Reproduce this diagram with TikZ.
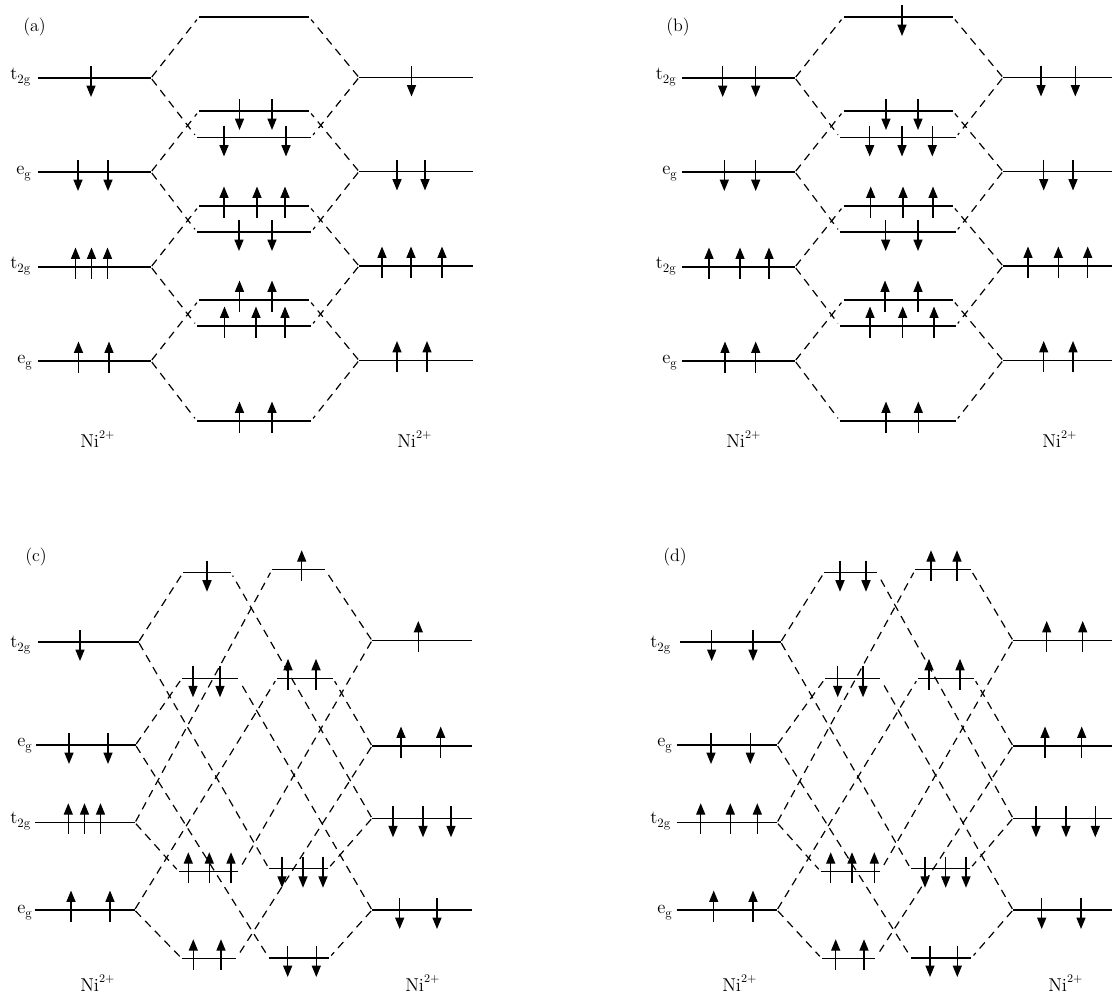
\documentclass[tikz,border=0pt]{standalone}
\usetikzlibrary{arrows.meta}
\tikzset{
  level/.style={line width=1pt,black},
  wire/.style={line width=0.9pt,black,dash pattern=on 6pt off 4.4pt,shorten >=2.5pt,shorten <=1pt},
  spin/.style={line width=1pt,black,-{Triangle[length=8.6pt,width=6.8pt]}},
  lab/.style={inner sep=0pt,anchor=base west,text=black}
}
\newcommand{\lv}[4]{\coordinate (#1-l) at (#2,#4);\coordinate (#1-r) at (#3,#4);\draw[level] (#1-l)--(#1-r);}
\newcommand{\ups}[2]{\foreach \xx in {#2}{\draw[spin] (\xx,#1+11.5)--(\xx,#1-19.5);}}
\newcommand{\dns}[2]{\foreach \xx in {#2}{\draw[spin] (\xx,#1-12)--(\xx,#1+19);}}
\newcommand{\tg}{\fontsize{14}{16}\selectfont t\raisebox{-3.4pt}{\fontsize{9.6}{11}\selectfont 2g}}
\newcommand{\eg}{\fontsize{14}{16}\selectfont e\raisebox{-3.4pt}{\fontsize{9.6}{11}\selectfont g}}
\newcommand{\nii}{\fontsize{14}{16}\selectfont Ni\raisebox{6.6pt}{\fontsize{8.8}{10}\selectfont 2+}}
\newcommand{\pl}[1]{\fontsize{13.5}{16}\selectfont (#1)}
\newcommand{\wirehex}[1]{%
  \draw[wire] (#1L1)--(#1C1-l);\draw[wire] (#1L1)--(#1C3-l);
  \draw[wire] (#1L2)--(#1C2-l);\draw[wire] (#1L2)--(#1C5-l);
  \draw[wire] (#1L3)--(#1C4-l);\draw[wire] (#1L3)--(#1C7-l);
  \draw[wire] (#1L4)--(#1C6-l);\draw[wire] (#1L4)--(#1C8-l);
  \draw[wire] (#1R1)--(#1C1-r);\draw[wire] (#1R1)--(#1C3-r);
  \draw[wire] (#1R2)--(#1C2-r);\draw[wire] (#1R2)--(#1C5-r);
  \draw[wire] (#1R3)--(#1C4-r);\draw[wire] (#1R3)--(#1C7-r);
  \draw[wire] (#1R4)--(#1C6-r);\draw[wire] (#1R4)--(#1C8-r);}
\newcommand{\wirecross}[1]{%
  \draw[wire] (#1L1)--(#1A1-l);\draw[wire] (#1L1)--(#1B3-l);
  \draw[wire] (#1L2)--(#1A2-l);\draw[wire] (#1L2)--(#1B4-l);
  \draw[wire] (#1L3)--(#1B1-l);\draw[wire] (#1L3)--(#1A3-l);
  \draw[wire] (#1L4)--(#1B2-l);\draw[wire] (#1L4)--(#1A4-l);
  \draw[wire] (#1R1)--(#1B1-r);\draw[wire] (#1R1)--(#1A3-r);
  \draw[wire] (#1R2)--(#1B2-r);\draw[wire] (#1R2)--(#1A4-r);
  \draw[wire] (#1R3)--(#1A1-r);\draw[wire] (#1R3)--(#1B3-r);
  \draw[wire] (#1R4)--(#1A2-r);\draw[wire] (#1R4)--(#1B4-r);}
\begin{document}
\begin{tikzpicture}[x=0.75pt,y=-0.75pt]
\useasboundingbox (0,0) rectangle (1112,996);
% ---------- (a)
\node[lab] (a-lab) at (23,31) {\pl{a}};
\node[lab] (a-t1) at (10,79) {\tg};
\node[lab] (a-e1) at (16,174) {\eg};
\node[lab] (a-t2) at (10,268) {\tg};
\node[lab] (a-e2) at (17,363) {\eg};
\node[lab] (a-n1) at (80,447) {\nii};
\node[lab] (a-n2) at (397,447) {\nii};
\lv{aXL1}{38}{151}{78}\lv{aXL2}{38}{151}{172}\lv{aXL3}{38}{151}{267}\lv{aXL4}{38}{151}{361}
\lv{aXR1}{359}{473}{77.5}\lv{aXR2}{359}{473}{171.5}\lv{aXR3}{359}{473}{266}\lv{aXR4}{359}{473}{360.5}
\coordinate (aL1) at (aXL1-r);\coordinate (aL2) at (aXL2-r);\coordinate (aL3) at (aXL3-r);\coordinate (aL4) at (aXL4-r);
\coordinate (aR1) at (aXR1-l);\coordinate (aR2) at (aXR2-l);\coordinate (aR3) at (aXR3-l);\coordinate (aR4) at (aXR4-l);
\lv{aC1}{199}{309}{17}\lv{aC2}{199}{309}{111}\lv{aC3}{197}{311}{137.5}\lv{aC4}{199}{309}{206}
\lv{aC5}{197}{311}{232}\lv{aC6}{199}{309}{300}\lv{aC7}{197}{311}{326}\lv{aC8}{197}{311}{421}
\wirehex{a}
\dns{78}{91}\dns{172}{78,108}\ups{267}{75.5,91.5,107.5}\ups{361}{78.5,109}
\dns{77.5}{411.5}\dns{171.5}{397,425}\ups{266}{382,411,442}\ups{360.5}{397,427}
\dns{111}{239.5,272}\dns{137.5}{224,286}\ups{206}{224,257,285}\dns{232}{239,272}
\ups{300}{239.5,272}\ups{326}{224.5,256,285}\ups{421}{239.5,272}
% ---------- (b)
\node[lab] (b-lab) at (666,31) {\pl{b}};
\node[lab] (b-t1) at (655.5,79) {\tg};
\node[lab] (b-e1) at (662,174) {\eg};
\node[lab] (b-t2) at (655.5,268) {\tg};
\node[lab] (b-e2) at (662,363) {\eg};
\node[lab] (b-n1) at (726,447) {\nii};
\node[lab] (b-n2) at (1042,447) {\nii};
\lv{bXL1}{682}{795}{78}\lv{bXL2}{682}{795}{172}\lv{bXL3}{682}{795}{267}\lv{bXL4}{682}{795}{361}
\lv{bXR1}{1003}{1112}{77.5}\lv{bXR2}{1003}{1112}{171.5}\lv{bXR3}{1003}{1112}{266}\lv{bXR4}{1003}{1112}{360.5}
\coordinate (bL1) at (bXL1-r);\coordinate (bL2) at (bXL2-r);\coordinate (bL3) at (bXL3-r);\coordinate (bL4) at (bXL4-r);
\coordinate (bR1) at (bXR1-l);\coordinate (bR2) at (bXR2-l);\coordinate (bR3) at (bXR3-l);\coordinate (bR4) at (bXR4-l);
\lv{bC1}{843.5}{952.7}{17}\lv{bC2}{843.5}{952.7}{111}\lv{bC3}{840}{955.7}{137.5}\lv{bC4}{843.5}{952.7}{206}
\lv{bC5}{840}{955.7}{232}\lv{bC6}{843.5}{952.7}{300}\lv{bC7}{840}{955.7}{326}\lv{bC8}{840}{955.7}{421}
\wirehex{b}
\dns{17}{902}
\dns{78}{722.7,755.7}\dns{172}{724.3,755.7}\ups{267}{709,740,769}\ups{361}{725,755.7}
\dns{77.5}{1041,1075.3}\dns{171.5}{1043.7,1073}\ups{266}{1028,1058.3,1087.7}\ups{360.5}{1043.7,1073}
\dns{111}{886,918}\dns{137.5}{869.7,902,932.3}\ups{206}{870.7,903,933}\dns{232}{885.7,918}
\ups{300}{885,918}\ups{326}{870,902.7,934}\ups{421}{886,918.3}
% ---------- (c)
\node[lab] (c-lab) at (25,561) {\pl{c}};
\node[lab] (c-t1) at (10,647) {\tg};
\node[lab] (c-e1) at (17,746) {\eg};
\node[lab] (c-t2) at (10,823) {\tg};
\node[lab] (c-e2) at (17,913) {\eg};
\node[lab] (c-n1) at (80,991) {\nii};
\node[lab] (c-n2) at (405,991) {\nii};
\lv{cXL1}{38.3}{138.5}{642}\lv{cXL2}{35.5}{135.5}{745}\lv{cXL3}{35}{135}{822.7}\lv{cXL4}{35}{134.5}{910}
\lv{cXR1}{372}{472}{640.5}\lv{cXR2}{372}{472}{746}\lv{cXR3}{372}{472}{818.3}\lv{cXR4}{372}{472}{910}
\coordinate (cL1) at (cXL1-r);\coordinate (cL2) at (cXL2-r);\coordinate (cL3) at (cXL3-r);\coordinate (cL4) at (cXL4-r);
\coordinate (cR1) at (cXR1-l);\coordinate (cR2) at (cXR2-l);\coordinate (cR3) at (cXR3-l);\coordinate (cR4) at (cXR4-l);
\lv{cA1}{183}{231}{572.7}\lv{cA2}{182}{238}{678.3}\lv{cA3}{179}{238}{871.7}\lv{cA4}{182}{236}{958.7}
\lv{cB1}{272}{325}{569.7}\lv{cB2}{277}{333}{678.3}\lv{cB3}{269}{328}{868.7}\lv{cB4}{269}{329}{958}
\wirecross{c}
\dns{642}{80}\dns{745}{69,108}\ups{822.7}{68.3,84.5,100.5}\ups{910}{71,110}
\ups{640.5}{418.3}\ups{746}{401,440.7}\dns{818.3}{393,423,451}\dns{910}{399.7,437}
\dns{572.7}{207}\dns{678.3}{193,220}\ups{871.7}{188.3,209.3,231}\ups{958.7}{193.3,221}
\ups{569.7}{301.7}\ups{678.3}{288,316}\dns{868.7}{282,303,323}\dns{958}{287.7,316.3}
% ---------- (d)
\node[lab] (d-lab) at (663,561) {\pl{d}};
\node[lab] (d-t1) at (650,647) {\tg};
\node[lab] (d-e1) at (657,746) {\eg};
\node[lab] (d-t2) at (650,823) {\tg};
\node[lab] (d-e2) at (657,913) {\eg};
\node[lab] (d-n1) at (722,991) {\nii};
\node[lab] (d-n2) at (1048,991) {\nii};
\lv{dXL1}{680}{780.7}{642}\lv{dXL2}{676.7}{777}{745}\lv{dXL3}{676.7}{777}{822.7}\lv{dXL4}{676.7}{777}{910}
\lv{dXR1}{1013}{1112}{640.5}\lv{dXR2}{1013}{1112}{746}\lv{dXR3}{1013}{1112}{818.3}\lv{dXR4}{1013}{1112}{910}
\coordinate (dL1) at (dXL1-r);\coordinate (dL2) at (dXL2-r);\coordinate (dL3) at (dXL3-r);\coordinate (dL4) at (dXL4-r);
\coordinate (dR1) at (dXR1-l);\coordinate (dR2) at (dXR2-l);\coordinate (dR3) at (dXR3-l);\coordinate (dR4) at (dXR4-l);
\lv{dA1}{824}{877}{572.7}\lv{dA2}{825.3}{880}{678.3}\lv{dA3}{821}{880}{871.7}\lv{dA4}{822}{875}{958.7}
\lv{dB1}{915.3}{970.7}{569.7}\lv{dB2}{918}{974}{678.3}\lv{dB3}{910.7}{970}{868.7}\lv{dB4}{911.3}{971.3}{958}
\wirecross{d}
\dns{642}{711.7,753}\dns{745}{711,750.3}\ups{822.7}{700.7,730.3,757.3}\ups{910}{713.7,753}
\ups{640.5}{1046.7,1082.7}\ups{746}{1045,1081.7}\dns{818.3}{1036,1066,1095.3}\dns{910}{1041.7,1081}
\dns{572.7}{840,866}\dns{678.3}{837.7,863}\ups{871.7}{830.7,852,874.3}\ups{958.7}{835.7,864}
\ups{569.7}{931,957}\ups{678.3}{929,960}\dns{868.7}{925,945.7,966}\dns{958}{930,957.3}
\end{tikzpicture}
\end{document}
